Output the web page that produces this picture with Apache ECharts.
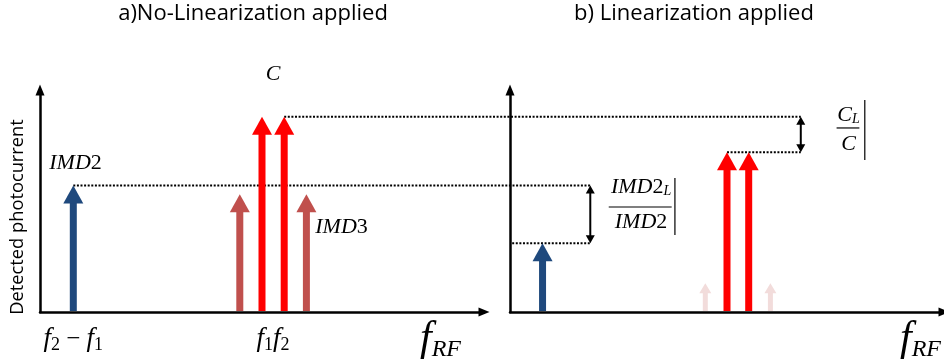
<!DOCTYPE html>
<html><head><meta charset="utf-8">
<script src="https://cdn.jsdelivr.net/npm/echarts@6/dist/echarts.min.js"></script>
<style>html,body{margin:0;padding:0;background:#fff}#c{width:944px;height:364px}</style>
</head><body><div id="c"></div>
<script>
// ---- data (frequency in arbitrary units, amplitude in arbitrary units) ----
const titles = ['a)No-Linearization applied', 'b) Linearization applied'];
const yName = 'Detected photocurrent';
// panel a) no linearization
const aImd2 = [[1.5, 57]];
const aImd3 = [[9, 53], [12, 53]];
const aCarrier = [[10, 88], [11, 88]];
// panel b) linearization
const bImd2 = [[1.5, 31]];
const bImd3 = [[9, 13], [12, 13]];
const bCarrier = [[10, 72], [11, 72]];
// x tick labels of panel a
const tickValues = [1.5, 10.5];
const tickLabels = ['{f|f}{s|2}{o| − }{f|f}{s|1}', '{f|f}{s|1}{f|f}{s|2}'];
// reference-level guides: [fromGrid, fromX, level, toGrid, toX]
const guides = [[0, 1.5, 57, 1, 3.7], [0, 11, 88, 1, 13.4], [1, 0.1, 31, 1, 3.7], [1, 10, 72, 1, 13.4]];
// ratio arrows in panel b: [x, low, high]
const ratios = [[3.7, 31, 57], [13.4, 72, 88]];

const BLUE = '#1F497D', LRED = '#C0504D', RED = '#FF0000', PINK = '#F2DCDB';
const SERIF = 'Liberation Serif';

const chart = echarts.init(document.getElementById('c'), null, {renderer: 'canvas'});

function arrowSeries(g, name, data, color, sz) {
  return {
    type: 'custom', name, xAxisIndex: g, yAxisIndex: g, data, clip: false, z: 3,
    renderItem(params, api) {
      const x = api.value(0), y = api.value(1);
      const b = api.coord([x, 0]), t = api.coord([x, y]);
      const hw = sz.head / 2, hh = sz.headH, sw = sz.shaft / 2;
      return {
        type: 'group', children: [
          {type: 'rect', shape: {x: b[0] - sw, y: t[1] + hh - 1, width: sz.shaft, height: b[1] - t[1] - hh}, style: {fill: color}},
          {type: 'polygon', shape: {points: [[t[0], t[1]], [t[0] - hw, t[1] + hh], [t[0] + hw, t[1] + hh]]}, style: {fill: color}}
        ]
      };
    }
  };
}
const big = {shaft: 7, head: 20, headH: 18};
const small = {shaft: 5, head: 12, headH: 10};

const axisLine = {show: true, onZero: false, lineStyle: {color: '#000', width: 2.5}, symbol: ['none', 'triangle'], symbolSize: [9, 11]};
const mathRich = {
  f: {fontFamily: SERIF, fontStyle: 'italic', fontSize: 27, lineHeight: 30, color: '#000'},
  o: {fontFamily: SERIF, fontSize: 25, lineHeight: 30, color: '#000'},
  s: {fontFamily: SERIF, fontSize: 18, lineHeight: 14, verticalAlign: 'bottom', color: '#000'}
};
const nameRich = {
  F: {fontFamily: SERIF, fontStyle: 'italic', fontSize: 42, lineHeight: 46, color: '#000'},
  R: {fontFamily: SERIF, fontStyle: 'italic', fontSize: 24, lineHeight: 18, verticalAlign: 'bottom', color: '#000'}
};

function xAx(g, gap, labels) {
  return {
    gridIndex: g, type: 'value', min: 0, max: 20,
    axisLine, axisTick: {show: false}, splitLine: {show: false},
    axisLabel: labels ? {
      show: true, customValues: tickValues, margin: 12,
      formatter: (v) => { const i = tickValues.findIndex(t => Math.abs(t - v) < 1e-6); return i >= 0 ? tickLabels[i] : ''; },
      rich: mathRich
    } : {show: false},
    name: '{F|f}{R|RF}', nameLocation: 'end', nameGap: gap,
    nameTextStyle: {align: 'left', verticalAlign: 'top', padding: [4, 0, 0, 0], rich: nameRich}
  };
}
function yAx(g) {
  return {gridIndex: g, type: 'value', min: 0, max: 100, axisLine, axisTick: {show: false},
    splitLine: {show: false}, axisLabel: {show: false}};
}

const titleStyle = {fontFamily: 'Open Sans', fontWeight: 'normal', fontSize: 22, color: '#000'};
chart.setOption({
  animation: false,
  backgroundColor: '#fff',
  title: [
    {text: titles[0], left: 253, top: 3, textAlign: 'center', padding: 0, textStyle: titleStyle},
    {text: titles[1], left: 694, top: 3, textAlign: 'center', padding: 0, textStyle: titleStyle}
  ],
  grid: [
    {left: 40, top: 90, width: 444, bottom: 52},
    {left: 510, top: 90, width: 444, bottom: 52}
  ],
  xAxis: [xAx(0, -64, true), xAx(1, -44, false)],
  yAxis: [yAx(0), yAx(1)],
  series: [
    arrowSeries(0, 'IMD2', aImd2, BLUE, big),
    arrowSeries(0, 'IMD3', aImd3, LRED, big),
    arrowSeries(0, 'C', aCarrier, RED, big),
    arrowSeries(1, 'IMD2 lin', bImd2, BLUE, big),
    arrowSeries(1, 'IMD3 lin', bImd3, PINK, small),
    arrowSeries(1, 'C lin', bCarrier, RED, big)
  ]
});

// ---- annotations placed through the axes ----
const P = (g, x, y) => chart.convertToPixel({gridIndex: g}, [x, y]);
const gfx = [];
const dotted = {stroke: '#000', lineWidth: 2, lineDash: [2, 1.6]};
guides.forEach(([g0, x0, y, g1, x1]) => {
  const a = P(g0, x0, y), b = P(g1, x1, y);
  gfx.push({type: 'line', shape: {x1: a[0], y1: a[1], x2: b[0], y2: b[1]}, style: dotted, z: 2});
});
ratios.forEach(([x, lo, hi]) => {
  const a = P(1, x, hi), b = P(1, x, lo);
  gfx.push({type: 'line', shape: {x1: a[0], y1: a[1] + 5, x2: b[0], y2: b[1] - 5}, style: {stroke: '#000', lineWidth: 2}, z: 4});
  gfx.push({type: 'polygon', shape: {points: [[a[0], a[1]], [a[0] - 4.5, a[1] + 8], [a[0] + 4.5, a[1] + 8]]}, style: {fill: '#000'}, z: 4});
  gfx.push({type: 'polygon', shape: {points: [[b[0], b[1]], [b[0] - 4.5, b[1] - 8], [b[0] + 4.5, b[1] - 8]]}, style: {fill: '#000'}, z: 4});
});
const lab = {
  i: {fontFamily: SERIF, fontStyle: 'italic', fontSize: 22, color: '#000'},
  n: {fontFamily: SERIF, fontSize: 22, color: '#000'},
  s: {fontFamily: SERIF, fontStyle: 'italic', fontSize: 14, lineHeight: 10, verticalAlign: 'bottom', color: '#000'}
};
function mtext(g, x, y, txt, align) {
  const p = P(g, x, y);
  gfx.push({type: 'text', x: p[0], y: p[1], z: 5,
    style: {text: txt, rich: lab, align: align || 'center', verticalAlign: 'middle', fill: '#000'}});
}
mtext(0, 10.5, 107, '{i|C}');
mtext(0, 1.6, 67, '{i|IMD}{n|2}');
mtext(0, 12.4, 38, '{i|IMD}{n|3}', 'left');
// fraction IMD2_L / IMD2
mtext(1, 6.04, 56, '{i|IMD}{n|2}{s|L}');
mtext(1, 6.04, 40.5, '{i|IMD}{n|2}');
(function () {
  const a = P(1, 4.55, 47.3), b = P(1, 7.45, 47.3);
  gfx.push({type: 'line', shape: {x1: a[0], y1: a[1], x2: b[0], y2: b[1]}, style: {stroke: '#000', lineWidth: 1.2}});
  const c = P(1, 7.6, 60.4), d = P(1, 7.6, 34.7);
  gfx.push({type: 'line', shape: {x1: c[0], y1: c[1], x2: d[0], y2: d[1]}, style: {stroke: '#000', lineWidth: 1.2}});
  // fraction C_L / C
  mtext(1, 15.6, 88.5, '{i|C}{s|L}');
  mtext(1, 15.6, 75.7, '{i|C}');
  const e = P(1, 15.05, 82.9), f = P(1, 16.1, 82.9);
  gfx.push({type: 'line', shape: {x1: e[0], y1: e[1], x2: f[0], y2: f[1]}, style: {stroke: '#000', lineWidth: 1.2}});
  const h = P(1, 16.35, 95.5), k = P(1, 16.35, 68.5);
  gfx.push({type: 'line', shape: {x1: h[0], y1: h[1], x2: k[0], y2: k[1]}, style: {stroke: '#000', lineWidth: 1.2}});
})();
// y axis name
gfx.push({type: 'text', x: 18, y: 217, rotation: Math.PI / 2, z: 5,
  style: {text: yName, fontFamily: 'Open Sans', fontSize: 18.3, fill: '#000', align: 'center', verticalAlign: 'middle'}});
chart.setOption({graphic: gfx});
</script></body></html>
